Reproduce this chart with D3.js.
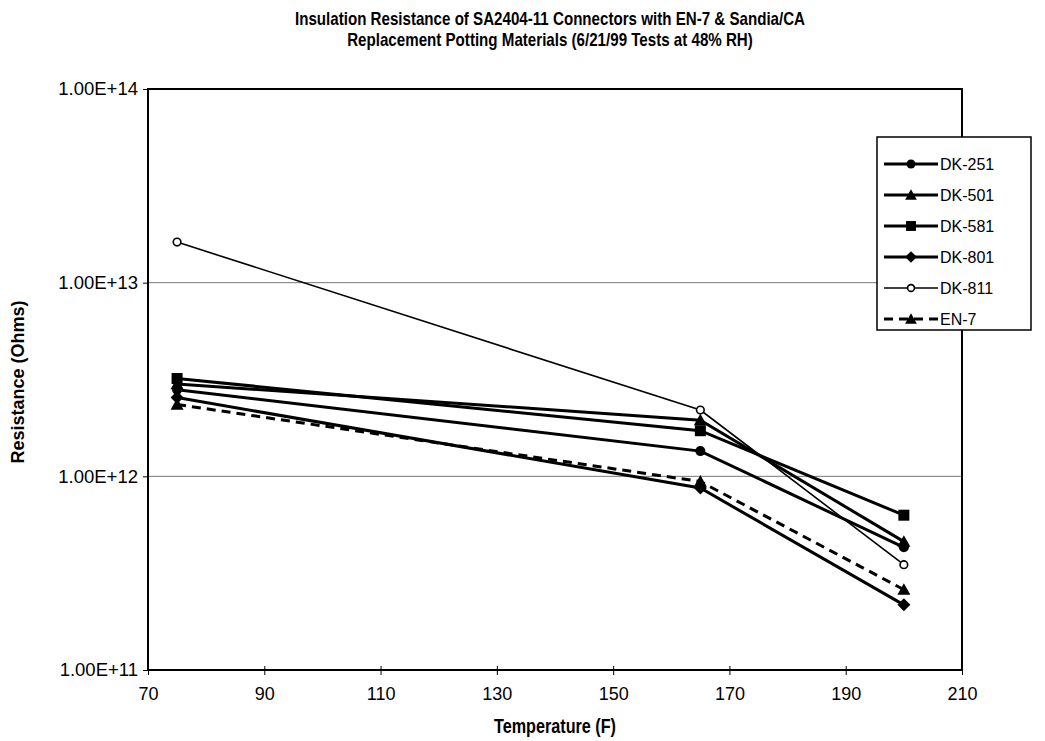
<!DOCTYPE html>
<html>
<head>
<meta charset="utf-8">
<script src="https://cdn.jsdelivr.net/npm/d3@7"></script>
<style>
  body { margin: 0; background: #fff; }
  svg { display: block; }
  text { font-family: "Liberation Sans", Arial, sans-serif; fill: #000; }
</style>
</head>
<body>
<svg id="chart" width="1045" height="741"></svg>
<script>
// Test temperatures (F)
const temperatures = [75, 165, 200];

// Insulation resistance (Ohms) per potting material
const seriesNames = ["DK-251", "DK-501", "DK-581", "DK-801", "DK-811", "EN-7"];
const dk251 = [2.8e12, 1.35e12, 4.3e11];
const dk501 = [3.0e12, 1.95e12, 4.6e11];
const dk581 = [3.2e12, 1.72e12, 6.3e11];
const dk801 = [2.55e12, 8.7e11, 2.17e11];
const dk811 = [1.62e13, 2.2e12, 3.5e11];
const en7   = [2.35e12, 9.4e11, 2.6e11];

const xTicks = [70, 90, 110, 130, 150, 170, 190, 210];
const yTicks = [1e11, 1e12, 1e13, 1e14];
const yTickLabels = ["1.00E+11", "1.00E+12", "1.00E+13", "1.00E+14"];

const seriesValues = [dk251, dk501, dk581, dk801, dk811, en7];
const seriesMarkers = ["circle", "triangle", "square", "diamond", "open", "triangle"];
const seriesWidths = [3, 3, 3, 3, 1.6, 3];
const seriesDash = [null, null, null, null, null, "9,6"];

const svg = d3.select("#chart");
const plotLeft = 148, plotRight = 962, plotTop = 89, plotBottom = 670;

const x = d3.scaleLinear().domain([70, 210]).range([plotLeft, plotRight]);
const y = d3.scaleLog().domain([1e11, 1e14]).range([plotBottom, plotTop]);

// Title (condensed bold, stretched vertically)
const title = svg.append("text")
  .attr("transform", "translate(550,3) scale(0.89,1.12)")
  .attr("text-anchor", "middle")
  .style("font-weight", "bold").style("font-size", "17px");
title.append("tspan").attr("x", 0).attr("y", 20)
  .text("Insulation Resistance of SA2404-11 Connectors with EN-7 & Sandia/CA");
title.append("tspan").attr("x", 0).attr("y", 38)
  .text("Replacement Potting Materials (6/21/99 Tests at 48% RH)");

// Horizontal gridlines
svg.append("g").selectAll("line")
  .data(yTicks.slice(1, 3))
  .join("line")
  .attr("x1", plotLeft).attr("x2", plotRight)
  .attr("y1", d => y(d)).attr("y2", d => y(d))
  .attr("stroke", "#777").attr("stroke-width", 1);

// Y axis
const yAxis = d3.axisLeft(y)
  .tickValues(yTicks)
  .tickFormat((d, i) => yTickLabels[i])
  .tickSize(5).tickPadding(5);
const gy = svg.append("g").attr("transform", `translate(${plotLeft},0)`).call(yAxis);
gy.select(".domain").remove();
gy.attr("font-size", null).attr("font-family", null);
gy.selectAll("text").style("font-size", "18.5px");

// X axis
const xAxis = d3.axisBottom(x).tickValues(xTicks).tickSize(5).tickPadding(12);
const gx = svg.append("g").attr("transform", `translate(0,${plotBottom})`).call(xAxis);
gx.select(".domain").remove();
gx.attr("font-size", null).attr("font-family", null);
gx.selectAll(".tick line").attr("y1", -4);
gx.selectAll("text").style("font-size", "18px");

// Plot frame
svg.append("rect")
  .attr("x", plotLeft).attr("y", plotTop)
  .attr("width", plotRight - plotLeft).attr("height", plotBottom - plotTop)
  .attr("fill", "none").attr("stroke", "#000").attr("stroke-width", 2);

// Axis titles
svg.append("text")
  .attr("transform", "translate(555,733) scale(0.9,1.1)")
  .attr("text-anchor", "middle")
  .style("font-weight", "bold").style("font-size", "18px")
  .text("Temperature (F)");
svg.append("text")
  .attr("transform", "translate(24,382) rotate(-90)")
  .attr("text-anchor", "middle")
  .style("font-weight", "bold").style("font-size", "18px")
  .text("Resistance (Ohms)");

// Marker drawing helper
function drawMarker(g, type, cx, cy, scale) {
  const s = scale || 1;
  if (type === "circle") {
    g.append("circle").attr("cx", cx).attr("cy", cy).attr("r", 5 * s).attr("fill", "#000");
  } else if (type === "open") {
    g.append("circle").attr("cx", cx).attr("cy", cy).attr("r", 3.8 * s)
      .attr("fill", "#fff").attr("stroke", "#000").attr("stroke-width", 1.6);
  } else if (type === "square") {
    const h = 5.5 * s;
    g.append("rect").attr("x", cx - h).attr("y", cy - h).attr("width", 2 * h).attr("height", 2 * h).attr("fill", "#000");
  } else if (type === "triangle") {
    const h = 6.5 * s;
    g.append("path").attr("d", `M${cx},${cy - h}L${cx + h},${cy + h * 0.8}L${cx - h},${cy + h * 0.8}Z`).attr("fill", "#000");
  } else if (type === "diamond") {
    const h = 6.5 * s;
    g.append("path").attr("d", `M${cx},${cy - h}L${cx + h},${cy}L${cx},${cy + h}L${cx - h},${cy}Z`).attr("fill", "#000");
  }
}

// Series lines and markers
const line = d3.line().x((d, i) => x(temperatures[i])).y(d => y(d));
const plot = svg.append("g");
seriesValues.forEach((vals, k) => {
  const g = plot.append("g");
  g.append("path")
    .attr("d", line(vals))
    .attr("fill", "none").attr("stroke", "#000")
    .attr("stroke-width", seriesWidths[k])
    .attr("stroke-dasharray", seriesDash[k]);
  vals.forEach((v, i) => drawMarker(g, seriesMarkers[k], x(temperatures[i]), y(v)));
});

// Legend
const lg = svg.append("g");
lg.append("rect")
  .attr("x", 877).attr("y", 137).attr("width", 154).attr("height", 193)
  .attr("fill", "#fff").attr("stroke", "#000").attr("stroke-width", 1.5);
seriesNames.forEach((name, k) => {
  const cy = 164 + k * 31;
  lg.append("line")
    .attr("x1", 884).attr("x2", 938).attr("y1", cy).attr("y2", cy)
    .attr("stroke", "#000").attr("stroke-width", seriesWidths[k])
    .attr("stroke-dasharray", seriesDash[k]);
  drawMarker(lg, seriesMarkers[k], 911, cy, 0.9);
  lg.append("text")
    .attr("x", 940).attr("y", cy + 6)
    .style("font-size", "16px")
    .text(name);
});
</script>
</body>
</html>
